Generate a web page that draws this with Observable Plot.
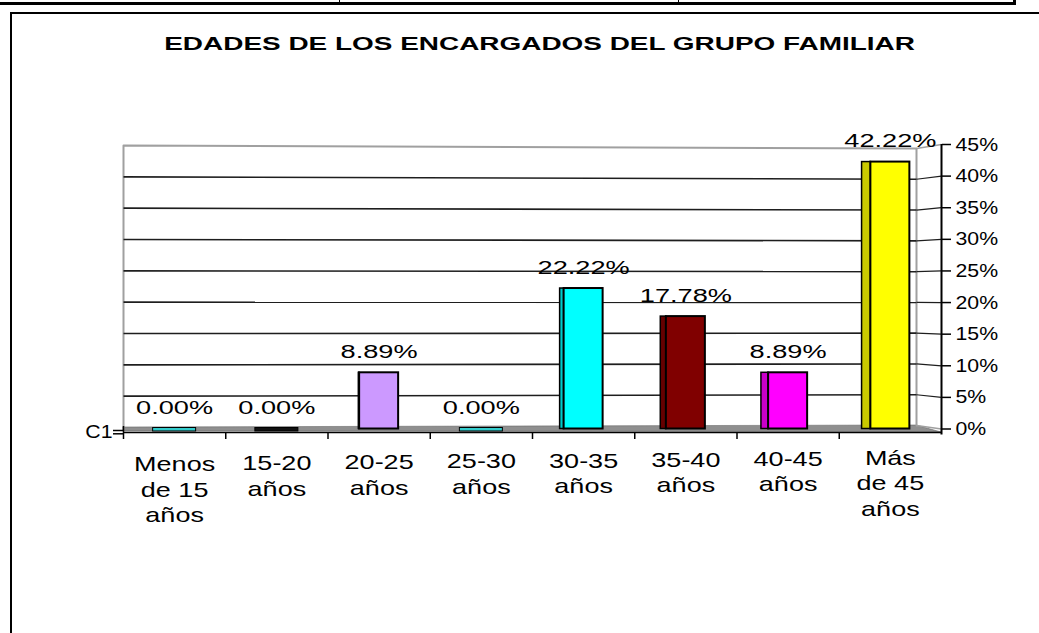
<!DOCTYPE html>
<html>
<head>
<meta charset="utf-8">
<script src="https://cdn.jsdelivr.net/npm/d3@7"></script>
<script src="https://cdn.jsdelivr.net/npm/@observablehq/plot@0.6"></script>
<style>
  html, body { margin: 0; padding: 0; background: #fff; }
  #wrap { position: relative; width: 1039px; height: 633px; overflow: hidden; background: #fff;
          font-family: "Liberation Sans", Arial, sans-serif; }
  #chart { position: absolute; left: 0; top: 0; }
  .ln { position: absolute; background: #000; }
  #title { position: absolute; left: 0; width: 1079px; top: 35px; text-align: center;
           font-weight: bold; font-size: 18.5px; line-height: 18.5px; color: #000; white-space: nowrap; }
  #title span { display: inline-block; transform: scaleX(1.51); transform-origin: 50% 50%; }
</style>
</head>
<body>
<div id="wrap">
  <div id="chart"></div>
  <!-- table edge above the chart -->
  <div class="ln" style="left:0;top:2px;width:1016px;height:3px"></div>
  <div class="ln" style="left:339px;top:0;width:1px;height:3px"></div>
  <div class="ln" style="left:678px;top:0;width:1px;height:3px"></div>
  <div class="ln" style="left:1013px;top:0;width:3px;height:5px"></div>
  <!-- chart frame -->
  <div class="ln" style="left:10px;top:12px;width:1029px;height:2px"></div>
  <div class="ln" style="left:10px;top:12px;width:2px;height:621px"></div>
  <div id="title"><span>EDADES DE LOS ENCARGADOS DEL GRUPO FAMILIAR</span></div>
</div>
<script>
// ---- data ----
const categories = ["Menos de 15 años", "15-20 años", "20-25 años", "25-30 años",
                    "30-35 años", "35-40 años", "40-45 años", "Más de 45 años"];
const categoryLines = ["Menos\nde 15\naños", "15-20\naños", "20-25\naños", "25-30\naños",
                       "30-35\naños", "35-40\naños", "40-45\naños", "Más\nde 45\naños"];
const percentages = [0.00, 0.00, 8.89, 0.00, 22.22, 17.78, 8.89, 42.22];
const yTicks = [0, 5, 10, 15, 20, 25, 30, 35, 40, 45];
const seriesName = "C1";

// ---- styles ----
const barColors = ["#33CCCC", "#111111", "#CC99FF", "#33CCCC", "#00FFFF", "#800000", "#FF00FF", "#FFFF00"];

// ---- layout ----
const W = 1039, H = 633;
const pL = 123, pR = 941, pT = 144, pB = 428.5;
const n = categories.length, yMax = 45;
const pxPerX = (pR - pL) / n;
const pxPerY = (pB - pT) / yMax;
const dxu = px => px / pxPerX;            // pixel offset -> x units
const dyu = px => px / pxPerY;            // pixel offset -> y units (positive = up)
const wallX = dxu(916 - pL);               // back wall right edge (x units)
const wallLeftY = v => dyu(1.5) + v * (282 / (pB - pT));   // back wall, left end (perspective)
const wallRightY = v => dyu(3.5) + v * (277 / (pB - pT));  // back wall, right end (perspective)

const rows = categories.map((c, i) => ({
  category: c, i, value: percentages[i], label: categoryLines[i], color: barColors[i],
  cx: i + 0.5,
  side: Math.max(0, 1.6 * (i - 1.5))
}));
const pos = rows.filter(d => d.value > 0);
const zero = rows.filter(d => d.value === 0);
const half = dxu(19.5);

const floor = [
  {x: 0, lo: dyu(-2.5), hi: wallLeftY(0)},
  {x: wallX, lo: dyu(-3), hi: wallRightY(0)},
  {x: n, lo: dyu(-3.5), hi: dyu(-3.5)}
];
const wall = [
  {x: 0, y: wallLeftY(0)}, {x: 0, y: wallLeftY(yMax)},
  {x: wallX, y: wallRightY(yMax)}, {x: wallX, y: wallRightY(0)}
];
const inner = yTicks.filter(v => v > 0 && v < yMax);
const outer = yTicks.filter(v => v === 0 || v === yMax);

const chart = Plot.plot({
  width: W, height: H,
  marginLeft: pL, marginRight: W - pR, marginTop: pT, marginBottom: H - pB,
  x: {domain: [0, n], axis: null},
  y: {domain: [0, yMax]},
  style: {fontFamily: "'Liberation Sans', Arial, sans-serif", background: "transparent", color: "#000", overflow: "visible"},
  marks: [
    // floor and back wall
    Plot.areaY(floor, {x: "x", y1: "lo", y2: "hi", fill: "#8f8f8f", stroke: "#666", strokeWidth: 0.6}),
    Plot.line(wall, {x: "x", y: "y", stroke: "#a0a0a0", strokeWidth: 2}),
    Plot.link(inner, {x1: 0, y1: wallLeftY, x2: wallX, y2: wallRightY, stroke: "#1e1e1e", strokeWidth: 1.6}),
    Plot.link(inner, {x1: wallX, y1: wallRightY, x2: n, y2: v => v, stroke: "#1e1e1e", strokeWidth: 1.2}),
    Plot.link(outer, {x1: wallX, y1: wallRightY, x2: n, y2: v => v, stroke: "#a0a0a0", strokeWidth: 1.5}),
    // zero bars (flat slabs)
    Plot.rect(zero, {x1: d => d.cx - dxu(21.5), x2: d => d.cx + dxu(21.5), y1: 0, y2: 0,
      insetTop: -1, insetBottom: -2.5, fill: "color", stroke: "#000", strokeWidth: 1}),
    // bar side faces
    Plot.rect(pos, {x1: d => d.cx - half - dxu(d.side), x2: d => d.cx - half, y1: 0, y2: "value",
      fill: d => d3.color(d.color).darker(0.65).formatHex(), stroke: "#000", strokeWidth: 1.5}),
    // bar front faces
    Plot.rect(pos, {x1: d => d.cx - half, x2: d => d.cx + half, y1: 0, y2: "value",
      fill: "color", stroke: "#000", strokeWidth: 2}),
    // front category axis with boundary ticks
    Plot.ruleY([dyu(-3.5)], {x1: 0, x2: n, stroke: "#000", strokeWidth: 1.5}),
    Plot.ruleX(d3.range(1, n), {y1: dyu(-3.5), y2: dyu(-10.5), stroke: "#000", strokeWidth: 1.5}),
    Plot.ruleX([0], {y1: dyu(2.5), y2: dyu(-10.5), stroke: "#000", strokeWidth: 1.5}),
    // series (depth) axis ticks and label
    Plot.ruleY([dyu(-1.5), dyu(-4.8)], {x1: dxu(-10), x2: 0, stroke: "#000", strokeWidth: 1.5}),
    Plot.text([seriesName], {x: 0, y: dyu(-2.5), dx: -11, text: d => d, textAnchor: "end", fontSize: 19,
      ariaDescription: "series-label"}),
    // right value axis
    Plot.ruleX([n], {y1: dyu(-6), y2: yMax, stroke: "#000", strokeWidth: 2}),
    Plot.axisY({anchor: "right", ticks: yTicks, tickFormat: d => d + "%", tickSize: 9, tickPadding: 5,
      fontSize: 19, label: null, strokeWidth: 1.5}),
    // category labels
    Plot.text(rows, {x: "cx", y: d => dyu(-(24 - 0.9 * d.i)), text: "label", lineAnchor: "top", lineHeight: 1.28,
      fontSize: 20, ariaDescription: "category-label"}),
    // data labels
    Plot.text(rows, {x: "cx", y: "value", text: d => d.value.toFixed(2) + "%", dy: -21, fontSize: 19,
      ariaDescription: "data-label"})
  ]
});

const stretch = (sel, s) => chart.querySelectorAll(sel).forEach(t => {
  t.setAttribute("transform", (t.getAttribute("transform") || "") + ` scale(${s},1)`);
});
stretch('g[aria-description="data-label"] text', 1.43);
stretch('g[aria-description="category-label"] text', 1.35);
stretch('g[aria-description="series-label"] text', 1.12);
stretch('g[aria-label="y-axis tick label"] text', 1.12);

document.getElementById("chart").appendChild(chart);
</script>
</body>
</html>
